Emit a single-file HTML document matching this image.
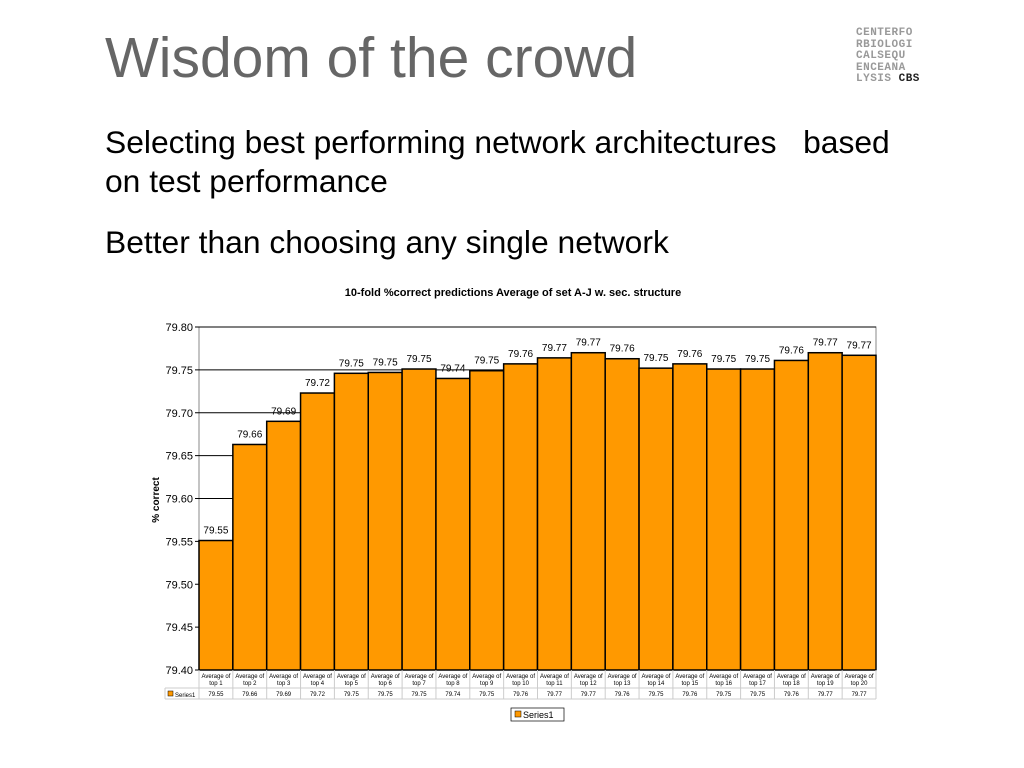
<!DOCTYPE html>
<html><head><meta charset="utf-8"><style>
body{margin:0;width:1024px;height:768px;background:#fff;overflow:hidden;font-family:"Liberation Sans",sans-serif;position:relative}
.t{position:absolute;color:#666}
</style></head><body>
<div class="t" style="left:105px;top:26px;font-size:57px;line-height:64px">Wisdom of the crowd</div>
<div style="position:absolute;left:856px;top:28px;font:bold 11px 'Liberation Mono',monospace;line-height:11.5px;color:#999;letter-spacing:0.5px">CENTERFO<br>RBIOLOGI<br>CALSEQU<br>ENCEANA<br>LYSIS <span style="color:#222">CBS</span></div>
<div class="t" style="left:105px;top:123px;font-size:31.8px;line-height:39px;color:#000">Selecting best performing network architectures &nbsp; based<br>on test performance</div>
<div class="t" style="left:105px;top:223px;font-size:31.8px;line-height:39px;color:#000">Better than choosing any single network</div>
<svg id="c" width="1024" height="768" style="position:absolute;left:0;top:0"></svg>
<script>
const categories=["top 1","top 2","top 3","top 4","top 5","top 6","top 7","top 8","top 9","top 10","top 11","top 12","top 13","top 14","top 15","top 16","top 17","top 18","top 19","top 20"];
const values=[79.551,79.663,79.690,79.723,79.746,79.747,79.751,79.740,79.749,79.757,79.764,79.770,79.763,79.752,79.757,79.751,79.751,79.761,79.770,79.767];
const labels=["79.55","79.66","79.69","79.72","79.75","79.75","79.75","79.74","79.75","79.76","79.77","79.77","79.76","79.75","79.76","79.75","79.75","79.76","79.77","79.77"];
const ticks=[79.40,79.45,79.50,79.55,79.60,79.65,79.70,79.75,79.80];
const svg=document.getElementById('c');const NS='http://www.w3.org/2000/svg';
function el(t,a,txt){const e=document.createElementNS(NS,t);for(const k in a)e.setAttribute(k,a[k]);if(txt!==undefined)e.textContent=txt;svg.appendChild(e);return e;}
const L=199,R=876,T=327,B=670,ymin=79.40,ymax=79.80;
const y=v=>B-(v-ymin)/(ymax-ymin)*(B-T);
const slot=(R-L)/categories.length;const x=i=>L+i*slot;
let e=el('text',{x:513,y:296,'text-anchor':'middle','font-size':11,'font-weight':'bold'},'10-fold %correct predictions Average of set A-J w. sec. structure');

e=el('rect',{x:L,y:T,width:R-L,height:B-T,fill:'#fff',stroke:'#888'});

ticks.forEach(t=>{
 e=el('line',{x1:L-4,x2:R,y1:y(t),y2:y(t),stroke:'#000','stroke-width':1});
 
 e=el('text',{x:193,y:y(t)+4,'text-anchor':'end','font-size':11},t.toFixed(2));
 
});
e=el('text',{x:0,y:0,transform:'translate(159,500) rotate(-90)','text-anchor':'middle','font-size':10,'font-weight':'bold'},'% correct');

values.forEach((v,i)=>{
 e=el('rect',{x:x(i),y:y(v),width:slot,height:B-y(v),fill:'#ff9900',stroke:'#000','stroke-width':1.5});
 
 e=el('text',{x:x(i)+slot/2,y:y(v)-7,'text-anchor':'middle','font-size':10},labels[i]);
 
});
el('line',{x1:165,x2:R,y1:699,y2:699,stroke:'#ccc'});
el('line',{x1:165,x2:R,y1:688,y2:688,stroke:'#ccc'});
el('line',{x1:165,x2:165,y1:688,y2:699,stroke:'#ccc'});
el('rect',{x:168,y:691,width:5,height:5,fill:'#ff9900',stroke:'#000','stroke-width':0.5});
e=el('text',{x:175,y:697,'font-size':6},'Series1');

categories.forEach((c,i)=>{
 el('line',{x1:x(i),x2:x(i),y1:B,y2:699,stroke:'#ccc'});
 e=el('text',{x:x(i)+slot/2,y:678,'text-anchor':'middle','font-size':6},'Average of');
 
 el('text',{x:x(i)+slot/2,y:685,'text-anchor':'middle','font-size':6},c);
 e=el('text',{x:x(i)+slot/2,y:696,'text-anchor':'middle','font-size':6},labels[i]);
 
});
el('line',{x1:R,x2:R,y1:B,y2:699,stroke:'#ccc'});
e=el('rect',{x:511,y:708,width:53,height:13,fill:'#fff',stroke:'#000','stroke-width':0.7});

el('rect',{x:515,y:711,width:6,height:6,fill:'#ff9900',stroke:'#000','stroke-width':0.5});
e=el('text',{x:523,y:718,'font-size':9},'Series1');

</script>
</body></html>
